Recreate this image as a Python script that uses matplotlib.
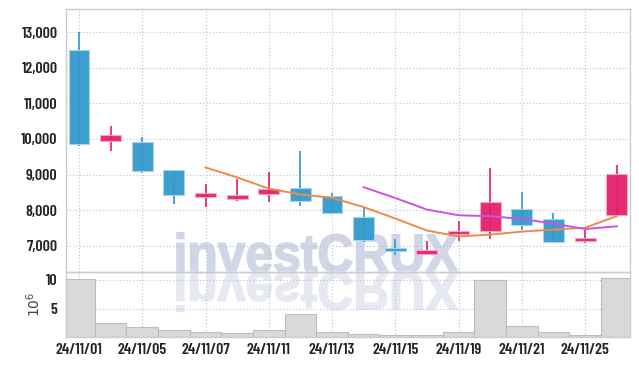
import matplotlib
matplotlib.use("Agg")
import matplotlib.pyplot as plt
from matplotlib.patches import Rectangle, PathPatch
from matplotlib.textpath import TextPath
from matplotlib.font_manager import FontProperties
from matplotlib.transforms import Affine2D
import numpy as np

# 일자 (거래일)
dates = ["24/11/01", "24/11/04", "24/11/05", "24/11/06", "24/11/07", "24/11/08",
         "24/11/11", "24/11/12", "24/11/13", "24/11/14", "24/11/15", "24/11/18",
         "24/11/19", "24/11/20", "24/11/21", "24/11/22", "24/11/25", "24/11/26"]
opens = [12500, 9950, 9910, 9130, 8380, 8320, 8440, 8620, 8400, 7800,
         6930, 6770, 7330, 7400, 8030, 7750, 7140, 7860]
highs = [13000, 10370, 10065, 9140, 8725, 8865, 9065, 9660, 8490, 8050,
         7180, 7140, 7700, 9175, 8500, 7910, 7440, 9270]
lows = [9800, 9660, 9050, 8170, 8095, 8265, 8220, 8125, 7925, 7110,
        6730, 6730, 7140, 7190, 7440, 7110, 7065, 7860]
closes = [9860, 10110, 9100, 8420, 8480, 8420, 8600, 8260, 7930, 7160,
          6840, 6880, 7410, 8230, 7590, 7110, 7190, 9010]
ma5 = [None, None, None, None, 9200, 8920, 8605, 8440, 8345, 8085,
       7765, 7425, 7260, 7310, 7395, 7450, 7505, 7830]
ma10 = [None] * 9 + [8645, 8340, 8015, 7855, 7828, 7750, 7620, 7468, 7545]
volume = [10.1, 2.5, 1.67, 1.3, 0.8, 0.64, 1.3, 4.1, 0.8, 0.47,
          0.3, 0.3, 0.8, 9.95, 1.85, 0.8, 0.3, 10.3]  # 10^6
tick_idx = [0, 2, 4, 6, 8, 10, 12, 14, 16]

UP = "#e5206b"
DOWN = "#3399cc"
GRID = "#b8c0d2"
TICK_FONT = "Barlow Condensed"

fig = plt.figure(figsize=(6.39, 3.66), dpi=100)
ax = fig.add_axes([0.1033, 0.2568, 0.8826, 0.7186])
axv = fig.add_axes([0.1033, 0.0792, 0.8826, 0.1776], sharex=ax)

x = np.arange(len(dates))
w = 0.66
for i in x:
    o, h, l, c = opens[i], highs[i], lows[i], closes[i]
    col = UP if c >= o else DOWN
    edge = "#f7a8c8" if c >= o else "#a8d4ec"
    ax.plot([i, i], [l, h], color=col, lw=1.3, zorder=3, solid_capstyle="butt", alpha=0.95)
    lo = min(o, c)
    hh = max(abs(c - o), 80)
    ax.add_patch(Rectangle((i - w / 2, lo), w, hh, facecolor=col,
                           edgecolor=edge, lw=0.8, zorder=4, alpha=0.95))

m5x = [i for i in x if ma5[i] is not None]
ax.plot(m5x, [ma5[i] for i in m5x], color="#ef8a4a", lw=1.4, zorder=5)
m10x = [i for i in x if ma10[i] is not None]
ax.plot(m10x, [ma10[i] for i in m10x], color="#c855e0", lw=1.4, zorder=5)

ax.set_xlim(-0.41, 17.42)
ax.set_ylim(6259, 13655)
ax.set_yticks(range(7000, 14000, 1000))
ax.set_yticklabels([f"{v:,}" for v in range(7000, 14000, 1000)])
ax.set_xticks(tick_idx)
ax.tick_params(axis="x", labelbottom=False, length=0)
ax.tick_params(axis="y", length=0, pad=6)

axv.bar(x, volume, width=1.0, color="#d9d9d9", edgecolor="#bdbdbd", lw=0.8, zorder=2)
axv.set_ylim(0, 11.4)
axv.set_yticks([5, 10])
axv.set_yticklabels(["5", "10"])
axv.set_xticks(tick_idx)
axv.set_xticklabels([dates[i] for i in tick_idx])
axv.tick_params(length=0)
axv.tick_params(axis="y", pad=6)
axv.tick_params(axis="x", pad=4)
axv.set_ylabel("$10^6$", fontsize=10, color="#444444", labelpad=2)

for a in (ax, axv):
    a.set_facecolor("none")
    a.grid(True, color=GRID, linestyle=(0, (1, 2)), lw=0.8)
    a.set_axisbelow(True)
    for s in a.spines.values():
        s.set_color("#cccccc")
        s.set_linewidth(1.0)
    for lab in a.get_xticklabels() + a.get_yticklabels():
        lab.set_family(TICK_FONT)
        lab.set_fontweight(600)
        lab.set_fontsize(11.5)
        lab.set_color("#222222")

# 워터마크 (반사 포함)
fp = FontProperties(family="Liberation Sans", weight="bold")
tp = TextPath((0, 0), "investCRUX", size=54, prop=fp)
ext = tp.get_extents()
sx = 281.0 / ext.width
bx, by = 177 - ext.x0 * sx, 366 - 272
fig.add_artist(PathPatch(tp, transform=Affine2D().scale(sx, 1).translate(bx, by),
                         facecolor="#d0d6e6", edgecolor="#d0d6e6", lw=1.2, zorder=-1))
fig.add_artist(PathPatch(tp, transform=Affine2D().scale(sx, -1).translate(bx, by),
                         facecolor="#e6e9f1", edgecolor="#e6e9f1", lw=1.2, zorder=-1))

fig.savefig("out.png", dpi=100)
